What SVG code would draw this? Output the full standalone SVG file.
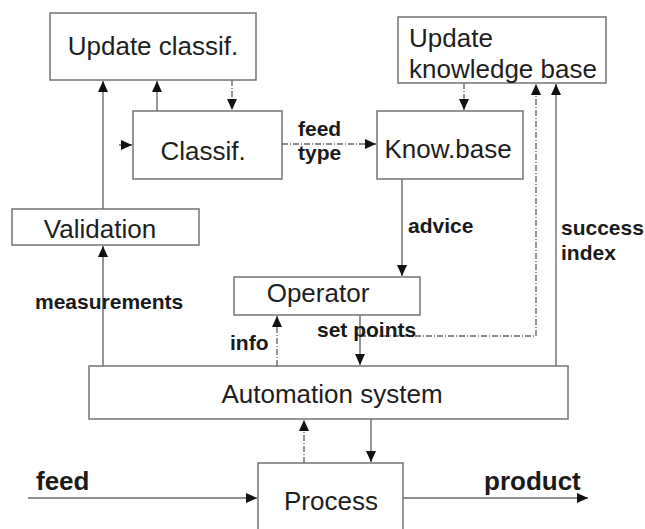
<svg xmlns="http://www.w3.org/2000/svg" width="645" height="529" viewBox="0 0 645 529">
<style>
.box{fill:#fff;stroke:#6a6a6a;stroke-width:1.4}
.nt{font-family:"Liberation Sans",Arial,sans-serif;font-size:26px;fill:#1e1e1e}
.lb{font-family:"Liberation Sans",Arial,sans-serif;font-size:21px;font-weight:bold;fill:#1a1a1a}
.lb2{font-family:"Liberation Sans",Arial,sans-serif;font-size:26px;font-weight:bold;fill:#1a1a1a}
.c{fill:none;stroke:#6a6a6a;stroke-width:1.4}
.d{stroke-dasharray:6 2 1 2}
</style>
<defs>
<marker id="ah" markerUnits="userSpaceOnUse" markerWidth="12" markerHeight="10" refX="11" refY="5" orient="auto">
<path d="M0,0 L11,5 L0,10 Z" fill="#111"/>
</marker>
</defs>
<rect width="645" height="529" fill="#fff"/>
<g id="connectors">
<path class="c" d="M103,209 V81" marker-end="url(#ah)"/>
<path class="c" d="M103,366 V246" marker-end="url(#ah)"/>
<path class="c" d="M157,111 V81" marker-end="url(#ah)"/>
<path class="c d" d="M232,80 V110" marker-end="url(#ah)"/>
<path class="c d" d="M119,145 H132" marker-end="url(#ah)"/>
<path class="c d" d="M282,144 H376" marker-end="url(#ah)"/>
<path class="c d" d="M464,83 V110" marker-end="url(#ah)"/>
<path class="c" d="M402,179 V276" marker-end="url(#ah)"/>
<path class="c d" d="M277,366 V316" marker-end="url(#ah)"/>
<path class="c" d="M360,315 V365" marker-end="url(#ah)"/>
<path class="c d" d="M360,336 H536 V84" marker-end="url(#ah)"/>
<path class="c" d="M556,366 V84" marker-end="url(#ah)"/>
<path class="c d" d="M304,463 V420" marker-end="url(#ah)"/>
<path class="c" d="M371,419 V462" marker-end="url(#ah)"/>
<path class="c" d="M28,498 H257" marker-end="url(#ah)"/>
<path class="c" d="M403,498 H588" marker-end="url(#ah)"/>
</g>
<g id="update-classif">
<rect class="box" x="50" y="13" width="206" height="67"/>
<text class="nt" x="153" y="55" text-anchor="middle">Update classif.</text>
</g>
<g id="classif">
<rect class="box" x="133" y="111" width="149" height="68"/>
<text class="nt" x="203" y="160" text-anchor="middle">Classif.</text>
</g>
<g id="update-kb">
<rect class="box" x="398" y="17" width="208" height="66"/>
<text class="nt" x="409" y="47">Update</text>
<text class="nt" x="409" y="78">knowledge base</text>
</g>
<g id="know-base">
<rect class="box" x="377" y="111" width="146" height="68"/>
<text class="nt" x="448" y="158" text-anchor="middle">Know.base</text>
</g>
<g id="validation">
<rect class="box" x="12" y="209" width="187" height="36"/>
<text class="nt" x="100" y="238" text-anchor="middle">Validation</text>
</g>
<g id="operator">
<rect class="box" x="234" y="277" width="186" height="38"/>
<text class="nt" x="318" y="302" text-anchor="middle">Operator</text>
</g>
<g id="automation">
<rect class="box" x="89" y="366" width="479" height="53"/>
<text class="nt" x="332" y="403" text-anchor="middle">Automation system</text>
</g>
<g id="process">
<rect class="box" x="258" y="463" width="145" height="80"/>
<text class="nt" x="331" y="510" text-anchor="middle">Process</text>
</g>
<g id="labels">
<text class="lb" x="298" y="136">feed</text>
<text class="lb" x="298" y="160">type</text>
<text class="lb" x="408" y="233">advice</text>
<text class="lb" x="561" y="235">success</text>
<text class="lb" x="561" y="260">index</text>
<text class="lb" x="35" y="309">measurements</text>
<text class="lb" x="230" y="350">info</text>
<text class="lb" x="317" y="337">set points</text>
<text class="lb2" x="36" y="490">feed</text>
<text class="lb2" x="484" y="490">product</text>
</g>
</svg>
